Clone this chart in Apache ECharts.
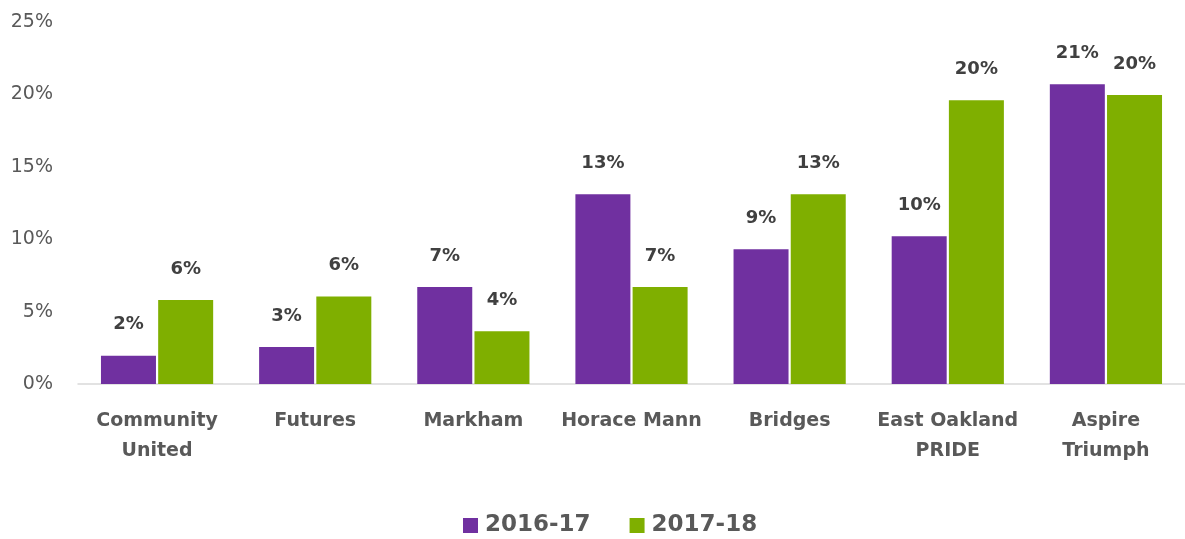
<!DOCTYPE html>
<html>
<head>
<meta charset="utf-8">
<script src="https://cdn.jsdelivr.net/npm/echarts@6/dist/echarts.min.js"></script>
<style>
html,body{margin:0;padding:0;background:#fff;}
#chart{width:1185px;height:539px;}
</style>
</head>
<body>
<div id="chart"></div>
<script>
const categories = ['Community\nUnited', 'Futures', 'Markham', 'Horace Mann', 'Bridges', 'East Oakland\nPRIDE', 'Aspire\nTriumph'];
const series2016 = [1.95, 2.55, 6.7, 13.1, 9.3, 10.2, 20.7];
const series2017 = [5.8, 6.05, 3.65, 6.7, 13.1, 19.6, 19.95];
const seriesNames = ['2016-17', '2017-18'];
const yTicks = [0, 5, 10, 15, 20, 25];

const FONT = '"DejaVu Sans", sans-serif';
const chart = echarts.init(document.getElementById('chart'));
const labelCfg = {
  show: true,
  position: 'top',
  distance: 22,
  formatter: p => Math.round(p.value) + '%',
  color: '#404040',
  fontFamily: FONT,
  fontWeight: 'bold',
  fontSize: 18
};
chart.setOption({
  animation: false,
  grid: {left: 78, right: -9, top: 22, bottom: 155, containLabel: false},
  legend: {
    data: seriesNames,
    bottom: 2,
    left: 463,
    padding: 0,
    itemWidth: 15,
    itemHeight: 15,
    itemGap: 39,
    icon: 'rect',
    textStyle: {color: '#595959', fontFamily: FONT, fontWeight: 'bold', fontSize: 23, padding: [0, 0, 0, 2]}
  },
  xAxis: {
    type: 'category',
    data: categories,
    axisLine: {lineStyle: {color: '#d9d9d9', width: 1.5}},
    axisTick: {show: false},
    axisLabel: {
      color: '#595959', fontFamily: FONT, fontWeight: 'bold', fontSize: 19,
      lineHeight: 30, margin: 22, interval: 0
    }
  },
  yAxis: {
    type: 'value',
    min: yTicks[0],
    max: yTicks[yTicks.length - 1],
    interval: 5,
    axisLine: {show: false},
    axisTick: {show: false},
    splitLine: {show: false},
    axisLabel: {
      formatter: v => v + '%',
      color: '#595959', fontFamily: FONT, fontSize: 19, margin: 25
    }
  },
  series: [
    {
      name: seriesNames[0], type: 'bar', data: series2016,
      barWidth: 55, barGap: '4%',
      itemStyle: {color: '#7030A0'},
      label: labelCfg
    },
    {
      name: seriesNames[1], type: 'bar', data: series2017,
      barWidth: 55,
      itemStyle: {color: '#7FAF00'},
      label: labelCfg
    }
  ]
});
</script>
</body>
</html>
